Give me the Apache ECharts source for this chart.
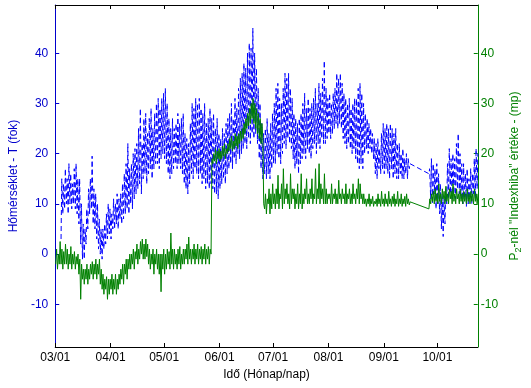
<!DOCTYPE html>
<html><head><meta charset="utf-8">
<script src="https://cdn.jsdelivr.net/npm/echarts@6/dist/echarts.min.js"></script>
<style>html,body{margin:0;padding:0;background:#fff}#c{width:531px;height:388px}</style>
</head><body><div id="c"></div>
<script>
// X ticks: days counted from 03/01
const tickDays = [0, 31, 61, 92, 122, 153, 184, 214];
const tickLabels = ['03/01', '04/01', '05/01', '06/01', '07/01', '08/01', '09/01', '10/01'];
const yTicks = [-10, 0, 10, 20, 30, 40];

// Temperature (blue) daily low / high, index = day since 03/01
const tLo = [null,null,null,3,8,9,10,8,10,9,10,9,8,6,2,-1,-1,2,5,8,9,6,5,3,1,0,-1,1,2,3,4,3,5,5,6,5,7,6,7,8,9,8,10,9,11,12,
13,14,12,15,16,14,16,17,15,17,18,18,17,19,20,19,18,16,15,16,17,18,17,18,17,16,14,13,12,14,16,15,17,16,15,16,14,15,13,14,
13,14,13,12,12,11,13,14,15,14,16,17,18,17,19,18,20,19,20,21,22,21,23,22,24,23,24,22,19,17,15,16,15,16,15,17,18,18,20,19,18,20,
22,21,23,22,21,19,17,18,16,18,19,20,19,21,20,19,21,22,20,22,21,23,22,22,23,24,23,24,25,26,25,26,25,23,22,21,22,21,20,21,
19,18,17,18,17,20,21,20,21,20,19,16,15,17,16,17,16,17,16,15,17,15,16,15,15,16,15,15,16,15,17,
null,null,null,null,null,null,null,null,null,null,
16,11,10,12,9,10,8,5,3.5,6,10,11,12,11,12,11,13,12,11,10,11,9.5,10,11,10,12,11,13];
const tHi = [null,null,null,15,14,17,15,18,16,14,17,18,15,15,10,6,5,9,13,15,19.5,13,12,10,7,5,5,6,8,10,9,8,11,10,12,11,12,14,16,18,22,17,18,20,21,22,
25,29,22,27,28,24,27,29,25,28,30,31,29,31,32,33,30,27,25,27,25,26,28,26,27,28,24,23,22,26,30,29,31,30,31,29,28,30,26,27,
29,27,28,25,27,24,23,25,24,26,27,28,30,27,31,29,33,35,36,38,37,40,42,41,45,40,37,33,30,26,24,25,27,24,26,28,30,33,34,31,30,33,
36,35,36,33,31,28,27,26,27,28,30,32,29,31,29,30,31,33,30,34,32,35,38.5,33,31,32,30,32,33,36,35,36,34,32,31,30,31,29,30,31,
31,33,34,32,30,28,27,26,25,24,23,22,23,21,24,26,25,26,25,26,25,24,25,22,22,20,21,19,20,19,18,
null,null,null,null,null,null,null,null,null,null,
17,19,18,17,18,16,14,12,11,13,18,21,19,20,19,22,24,20,18,18,16,17,15,17,16,19,21,20];

// "Indexhiba" (green) two readings per day
const gA = [-2,-3,-2,-2,-3,-2,-2,-3,-2,-3,-2,-3,-2,-4,-9,-5,-6,-5,-6,-5,-4,-5,-4,-5,-4,-6,-7,-8,-7,-9,-8,-7,-8,-7,-8,-7,
-6,-5,-6,-4,-5,-3,-3,-2,-3,-1,-2,-1,0,-1,-1,-0.5,-2,-3,-2,-4,-2,-3,-4,-7.5,-3,-4,-3,-2,-3,-2,-3,-2,-3,-2,-3,-2,
-2,-1,-2,-1,-2,-1,-2,-1,-2,-1,-2,-1,-2,-1,-2,0,
18,18.5,18,19,18.5,19,19.5,19,20,20.5,21,20.5,21,21.5,21,22,22.5,23,24,25,25.5,26,27,26,25,24,23,22,23,
9,8,10,8,9,10,9,10,9,11,9,10,11,10,9,10,11,9,10,9,10,9,10,11,10,10,11,10,11,10,11,10,11,10,10,
10,11,10,10,11,10,10,11,10,11,10,10,11,10,10,11,10,11,10,11,10,10,9.5,10,9.5,10,9.5,10,9.5,10,9.5,10,9.5,10,9.5,10,9.5,10,9.5,10,9.5,10,9.5,10,9.5,10,9.8,
null,null,null,null,null,null,null,null,null,null,
9,10,10.5,10,10.5,10,10.5,10,11,10,10.5,10,11,10,10.5,10,11,10,10.5,10,10.5,10,10.5,10,10.5,10,10.5,10];
const gB = [1,0,2.5,1,0.5,2,1,0,1.5,0,0.5,-0.5,0,-1,-2,-3,-3,-2,-3,-2,-1.5,-2,-1,-2,-1,-3,-4,-5,-4.5,-5,-5,-4,-5,-4,-5,-4,
-3,-2,-2,-1,-1,0,0,1,0.5,2,1,2.5,3,2,3,2,1,0,1,0,1,0,0,0,1,0,1,0.5,4.2,1,1,0,1,1.5,0,1,
1,2,3.4,1,1,2,1,2,1,1.5,1,2,1,1.5,1,19,
20,21,20.5,21,20.5,21.5,22,21,22,23,23.5,22.5,24,23.5,24,24.5,25,26,27,28,29,30,31,30,29,28,27,26,10,
12,11,13,12,14,12,13,15.7,12,14,17,13,14,12,16,13,13,12,14,12,16,12,13,15,12,13,15,12,17,13,18,14,13,16,13,
12,12,14,12,13,12,14.7,12,13,12,14,12,13,12,14,12,13,15,14,12,12,11,11,12,11,11.5,10.5,11,12,11,12.5,11,12,11,12.5,11,11.5,12,11,12.5,11,12,11,11.5,12,11,10.4,
null,null,null,null,null,null,null,null,null,null,
11,12,12.5,13,12,14,12,13,12.5,13.5,12,13,12.5,14,12,13,12,13,12,12.5,12,13,12,12.5,12,13,12,12];

const tempData = [];
tLo.forEach((lo, d) => { if (lo == null) return; tempData.push([d + 0.25, lo], [d + 0.65, tHi[d]]); });
const idxData = [];
gA.forEach((a, d) => { if (a == null) return; idxData.push([d + 0.25, a], [d + 0.75, gB[d]]); });

const font = '"Liberation Sans", Arial, sans-serif';
const blueAx = '#0000cc', greenAx = '#008000';
const chart = echarts.init(document.getElementById('c'), null, {renderer: 'canvas'});
chart.setOption({
  animation: false,
  backgroundColor: '#fff',
  grid: {left: 50, right: 48, top: 5, bottom: 41},
  xAxis: [{
    type: 'value', min: 0, max: 236.6, position: 'bottom',
    name: 'Idő (Hónap/nap)', nameLocation: 'middle', nameGap: 19,
    nameTextStyle: {color: '#000', fontFamily: font, fontSize: 12},
    axisLine: {show: true, onZero: false, lineStyle: {color: '#000', width: 1}},
    axisTick: {show: true, inside: true, length: 4, customValues: tickDays, lineStyle: {color: '#000'}},
    axisLabel: {customValues: tickDays, formatter: v => tickLabels[tickDays.indexOf(v)], color: '#000', fontFamily: font, fontSize: 12, margin: 5},
    splitLine: {show: false}
  }, {
    type: 'value', min: 0, max: 236.6, position: 'top',
    axisLine: {show: true, onZero: false, lineStyle: {color: '#000', width: 1}},
    axisTick: {show: true, inside: true, length: 4, customValues: tickDays, lineStyle: {color: '#000'}},
    axisLabel: {show: false}, splitLine: {show: false}
  }],
  yAxis: [{
    type: 'value', min: -18.5, max: 49.6, position: 'left',
    name: 'Hőmérséklet - T (fok)', nameLocation: 'middle', nameGap: 32,
    nameTextStyle: {color: blueAx, fontFamily: font, fontSize: 12},
    axisLine: {show: true, onZero: false, lineStyle: {color: blueAx, width: 1}},
    axisTick: {show: true, inside: true, length: 4, customValues: yTicks, lineStyle: {color: blueAx}},
    axisLabel: {customValues: yTicks, color: blueAx, fontFamily: font, fontSize: 12, margin: 7},
    splitLine: {show: false}
  }, {
    type: 'value', min: -18.5, max: 49.6, position: 'right',
    name: '{a|P}{s|2}{a|-nél "Indexhiba" értéke - (mp)}', nameLocation: 'middle', nameGap: 28,
    nameTextStyle: {color: greenAx, fontFamily: font, fontSize: 12,
      rich: {a: {color: greenAx, fontFamily: font, fontSize: 12, lineHeight: 16, verticalAlign: 'middle'},
             s: {color: greenAx, fontFamily: font, fontSize: 9, lineHeight: 9, verticalAlign: 'bottom'}}},
    axisLine: {show: true, onZero: false, lineStyle: {color: greenAx, width: 1}},
    axisTick: {show: true, inside: true, length: 4, customValues: yTicks, lineStyle: {color: greenAx}},
    axisLabel: {customValues: yTicks, color: greenAx, fontFamily: font, fontSize: 12, margin: 3},
    splitLine: {show: false}
  }],
  series: [{
    type: 'line', xAxisIndex: 0, yAxisIndex: 0, data: tempData, symbol: 'none', sampling: null,
    lineStyle: {color: '#0000ff', width: 1, type: [5, 3]}, z: 2
  }, {
    type: 'line', xAxisIndex: 0, yAxisIndex: 1, data: idxData, symbol: 'none',
    lineStyle: {color: '#008000', width: 1}, z: 3
  }]
});
</script></body></html>
